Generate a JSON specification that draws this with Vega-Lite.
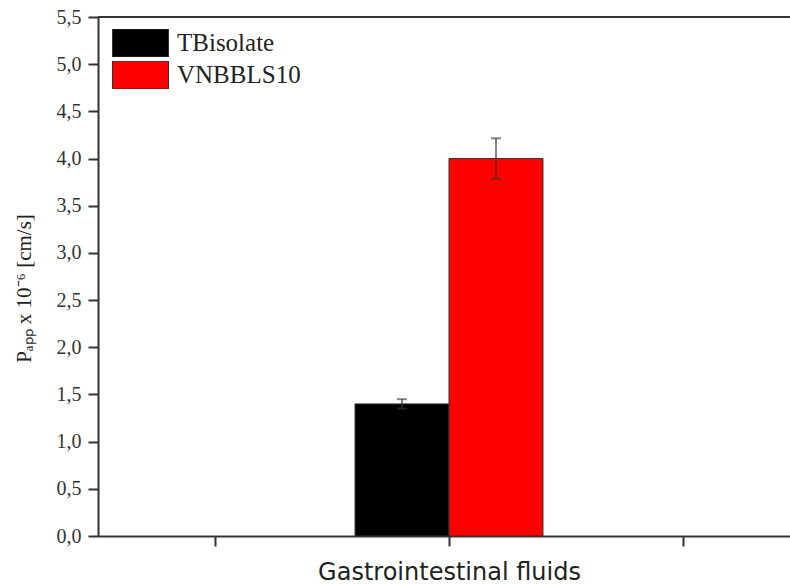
{
  "$schema": "https://vega.github.io/schema/vega-lite/v6.json",
  "width": 692,
  "height": 519,
  "autosize": {"type": "none"},
  "padding": {"left": 98, "top": 17, "right": 0, "bottom": 51},
  "background": "white",
  "config": {
    "view": {"stroke": null},
    "axisY": {
      "grid": false,
      "domainColor": "#333",
      "domainWidth": 2,
      "tickColor": "#333",
      "tickWidth": 2,
      "labelFont": "Liberation Serif",
      "labelFontSize": 20,
      "labelColor": "#333",
      "labelPadding": 7,
      "titleFont": "Liberation Serif",
      "titleFontSize": 21,
      "titleFontWeight": "normal",
      "titleColor": "#222",
      "titlePadding": 22,
      "titleY": 271
    },
    "axisX": {
      "grid": false,
      "domainColor": "#333",
      "domainWidth": 2,
      "tickColor": "#333",
      "tickWidth": 2,
      "tickSize": 10,
      "labels": false,
      "titleFont": "DejaVu Sans",
      "titleFontSize": 24,
      "titleFontWeight": "normal",
      "titleColor": "#222",
      "titlePadding": 13
    },
    "legend": {
      "orient": "none",
      "legendX": 14,
      "legendY": 12,
      "padding": 0,
      "symbolType": "M-1,-0.5H1V0.5H-1Z",
      "symbolSize": 3136,
      "clipHeight": 28,
      "rowPadding": 4,
      "symbolStrokeColor": "#333",
      "symbolStrokeWidth": 1,
      "symbolOpacity": 1,
      "labelFont": "Liberation Serif",
      "labelFontSize": 25,
      "labelColor": "#222",
      "labelOffset": 8,
      "labelLimit": 300
    }
  },
  "data": {
    "values": [
      {"fluid": "Gastrointestinal fluids", "strain": "TBisolate", "value": 1.40, "lo": 1.35, "hi": 1.45},
      {"fluid": "Gastrointestinal fluids", "strain": "VNBBLS10", "value": 4.00, "lo": 3.785, "hi": 4.215}
    ]
  },
  "layer": [
    {
      "mark": {"type": "bar", "stroke": "#333", "strokeWidth": 1},
      "encoding": {
        "x": {"field": "fluid", "type": "nominal", "title": "Gastrointestinal fluids",
              "scale": {"domain": ["·", "Gastrointestinal fluids", "··"], "range": [0, 702], "paddingInner": 0, "paddingOuter": 0}},
        "xOffset": {"field": "strain", "type": "nominal",
              "scale": {"domain": ["TBisolate", "VNBBLS10"], "paddingInner": 0, "paddingOuter": 0.245}},
        "y": {"field": "value", "type": "quantitative", "title": "Pₐₚₚ x 10⁻⁶ [cm/s]",
              "scale": {"domain": [0, 5.5], "nice": false},
              "axis": {
                "values": [0, 0.25, 0.5, 0.75, 1, 1.25, 1.5, 1.75, 2, 2.25, 2.5, 2.75, 3, 3.25, 3.5, 3.75, 4, 4.25, 4.5, 4.75, 5, 5.25, 5.5],
                "labelExpr": "(datum.value * 4) % 2 === 0 ? replace(format(datum.value, '.1f'), '.', ',') : ''",
                "tickSize": {"condition": {"test": "(datum.value * 4) % 2 === 0", "value": 10}, "value": 5}
              }},
        "color": {"field": "strain", "type": "nominal", "title": null,
                  "scale": {"domain": ["TBisolate", "VNBBLS10"], "range": ["#000000", "#ff0000"]}}
      }
    },
    {
      "mark": {"type": "rule", "color": "#333", "opacity": 0.6, "strokeWidth": 2},
      "encoding": {
        "x": {"field": "fluid", "type": "nominal", "title": "Gastrointestinal fluids"},
        "xOffset": {"field": "strain", "type": "nominal"},
        "y": {"field": "lo", "type": "quantitative", "title": "Pₐₚₚ x 10⁻⁶ [cm/s]"},
        "y2": {"field": "hi"}
      }
    },
    {
      "mark": {"type": "tick", "orient": "horizontal", "size": 10, "thickness": 2, "color": "#333", "opacity": 0.6},
      "encoding": {
        "x": {"field": "fluid", "type": "nominal", "title": "Gastrointestinal fluids"},
        "xOffset": {"field": "strain", "type": "nominal"},
        "y": {"field": "hi", "type": "quantitative", "title": "Pₐₚₚ x 10⁻⁶ [cm/s]"}
      }
    },
    {
      "mark": {"type": "tick", "orient": "horizontal", "size": 10, "thickness": 2, "color": "#333", "opacity": 0.6},
      "encoding": {
        "x": {"field": "fluid", "type": "nominal", "title": "Gastrointestinal fluids"},
        "xOffset": {"field": "strain", "type": "nominal"},
        "y": {"field": "lo", "type": "quantitative", "title": "Pₐₚₚ x 10⁻⁶ [cm/s]"}
      }
    },
    {
      "mark": {"type": "rule", "color": "#333", "strokeWidth": 2},
      "encoding": {
        "y": {"datum": 5.5, "type": "quantitative", "title": "Pₐₚₚ x 10⁻⁶ [cm/s]"}
      }
    }
  ]
}
